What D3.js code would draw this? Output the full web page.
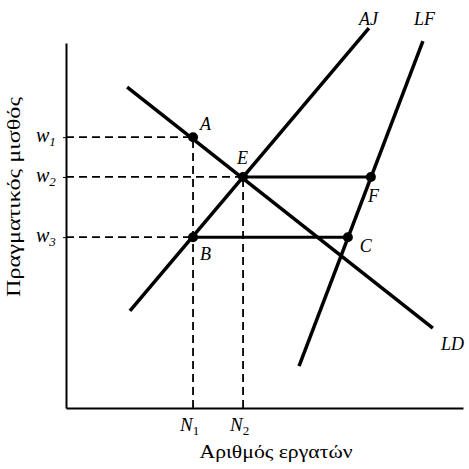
<!DOCTYPE html>
<html>
<head>
<meta charset="utf-8">
<script src="https://cdn.jsdelivr.net/npm/d3@7"></script>
<style>
  body { margin: 0; background: #fff; }
  text { font-family: "Liberation Serif", "DejaVu Serif", serif; fill: #000; }
</style>
</head>
<body>
<svg id="chart" width="469" height="469"></svg>
<script>
// curve end points (x units, y units)
const curveNames = ["LD", "AJ", "LF"];
const curveX = [[1.54, 9.24], [1.61, 7.63], [5.87, 8.99]];
const curveY = [[8.79, 2.19], [2.66, 10.41], [1.15, 10.05]];

// labelled points
const pointNames = ["A", "E", "B", "C", "F"];
const pointX = [3.20, 4.46, 3.20, 7.10, 7.68];
const pointY = [7.42, 6.33, 4.68, 4.68, 6.33];

// tick levels
const xTickValues = [3.20, 4.46];
const xTickNames = ["1", "2"];
const yTickValues = [7.42, 6.33, 4.68];
const yTickNames = ["1", "2", "3"];

const xTitle = "Αριθμός εργατών";
const yTitle = "Πραγματικός μισθός";

const svg = d3.select("#chart");
const x = d3.scaleLinear().domain([0, 10]).range([66, 463]);
const y = d3.scaleLinear().domain([0, 10]).range([408, 43]);

// dashed guides from the axes to the points
xTickValues.forEach((v, i) => {
    const top = i === 0 ? yTickValues[0] : yTickValues[1];
    svg.append("line")
        .attr("x1", x(v)).attr("x2", x(v))
        .attr("y1", y(0)).attr("y2", y(top))
        .attr("stroke", "#000").attr("stroke-width", 1.8)
        .attr("stroke-dasharray", "8,5");
});
yTickValues.forEach((v, i) => {
    const right = i === 1 ? xTickValues[1] : xTickValues[0];
    svg.append("line")
        .attr("x1", x(0)).attr("x2", x(right))
        .attr("y1", y(v)).attr("y2", y(v))
        .attr("stroke", "#000").attr("stroke-width", 1.8)
        .attr("stroke-dasharray", "8,5");
});

// Axes
const yAxis = svg.append("g").attr("transform", `translate(${x(0)},0)`)
    .call(d3.axisLeft(y).tickValues(yTickValues).tickFormat("").tickSize(3).tickSizeOuter(0));
const xAxis = svg.append("g").attr("transform", `translate(0,${y(0)})`)
    .call(d3.axisBottom(x).tickValues(xTickValues).tickFormat("").tickSize(-4).tickSizeOuter(0));
[xAxis, yAxis].forEach(a => {
    a.select(".domain").attr("stroke-width", 2);
    a.selectAll(".tick line").attr("stroke-width", 1);
});

// curves
curveNames.forEach((name, i) => {
    svg.append("line")
        .attr("x1", x(curveX[i][0])).attr("y1", y(curveY[i][0]))
        .attr("x2", x(curveX[i][1])).attr("y2", y(curveY[i][1]))
        .attr("stroke", "#000").attr("stroke-width", 3.5)
        .attr("stroke-linecap", "butt");
});

// horizontal segments B-C and E-F
[[2, 3], [1, 4]].forEach(([a, b]) => {
    svg.append("line")
        .attr("x1", x(pointX[a])).attr("y1", y(pointY[a]))
        .attr("x2", x(pointX[b])).attr("y2", y(pointY[b]))
        .attr("stroke", "#000").attr("stroke-width", 3);
});

// points
svg.selectAll(".dot")
    .data(pointNames)
    .enter().append("circle")
    .attr("class", "dot")
    .attr("cx", (d, i) => x(pointX[i]))
    .attr("cy", (d, i) => y(pointY[i]))
    .attr("r", 5)
    .attr("fill", "#000");

// point labels
const pointOffsets = { A: [7, -7], E: [-6, -13], B: [7, 23], C: [12, 15], F: [-3, 25] };
pointNames.forEach((name, i) => {
    svg.append("text")
        .attr("x", x(pointX[i]) + pointOffsets[name][0])
        .attr("y", y(pointY[i]) + pointOffsets[name][1])
        .attr("font-size", 18).attr("font-style", "italic")
        .text(name);
});

// curve labels
const curveLabelPos = { LD: [441, 350], AJ: [359, 25], LF: [414, 25] };
curveNames.forEach(name => {
    svg.append("text")
        .attr("x", curveLabelPos[name][0]).attr("y", curveLabelPos[name][1])
        .attr("font-size", 18).attr("font-style", "italic")
        .text(name);
});

// tick labels
yTickValues.forEach((v, i) => {
    const t = svg.append("text")
        .attr("x", 36).attr("y", y(v) + 5)
        .attr("font-size", 20).attr("font-style", "italic");
    t.append("tspan").text("w");
    t.append("tspan").attr("dy", 4).attr("font-size", 13).text(yTickNames[i]);
});
xTickValues.forEach((v, i) => {
    const t = svg.append("text")
        .attr("x", x(v) - 13).attr("y", y(0) + 23)
        .attr("font-size", 19).attr("font-style", "italic");
    t.append("tspan").text("N");
    t.append("tspan").attr("dy", 4).attr("font-size", 13).attr("font-style", "normal").text(xTickNames[i]);
});

// axis titles
svg.append("text")
    .attr("x", 276).attr("y", 458)
    .attr("text-anchor", "middle").attr("font-size", 19)
    .attr("textLength", 153).attr("lengthAdjust", "spacingAndGlyphs")
    .text(xTitle);
svg.append("text")
    .attr("transform", "translate(20,197) rotate(-90)")
    .attr("text-anchor", "middle").attr("font-size", 19)
    .attr("textLength", 200).attr("lengthAdjust", "spacingAndGlyphs")
    .text(yTitle);
</script>
</body>
</html>
